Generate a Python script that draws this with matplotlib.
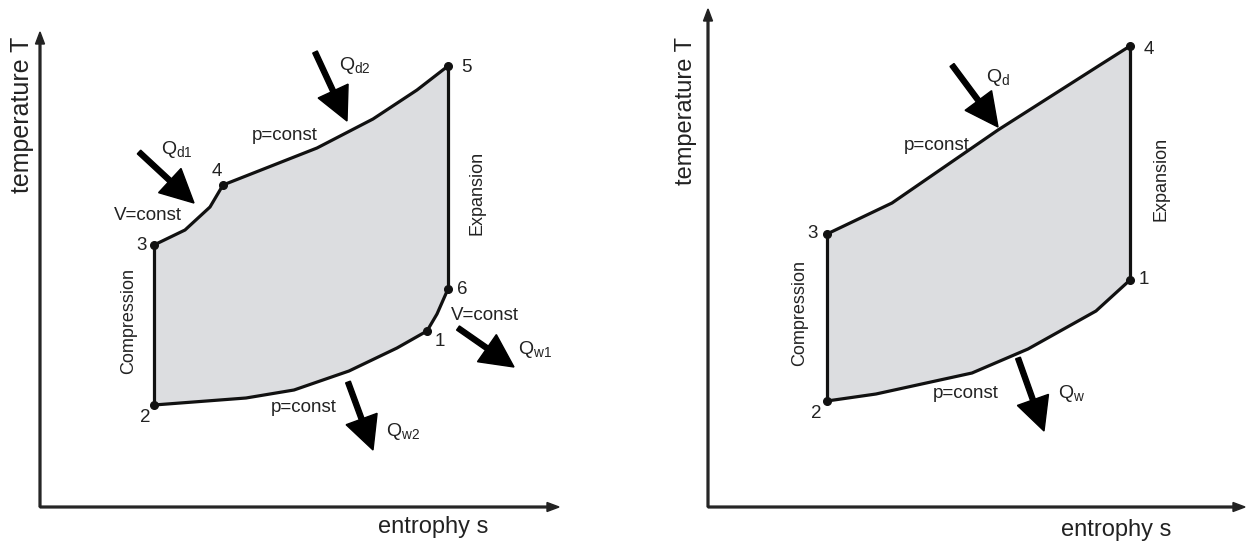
import numpy as np
import matplotlib.pyplot as plt

plt.rcParams['font.family'] = ['Liberation Sans', 'DejaVu Sans']
plt.rcParams['mathtext.fontset'] = 'custom'
plt.rcParams['mathtext.rm'] = 'Liberation Sans'

### left diagram: mixed cycle (values in diagram units) ###
left_pts_s = [387, 114, 114, 183, 408, 408]      # states 1..6
left_pts_T = [176, 102, 262, 322, 441, 218]
left_names = ['1', '2', '3', '4', '5', '6']
left_name_s = [400, 105, 102, 177, 426, 422]
left_name_T = [166, 90, 262, 335, 439, 217]

left_v_up_s = [114, 145, 170, 183]               # 3 -> 4, V=const
left_v_up_T = [262, 277, 300, 322]
left_p_up_s = [183, 277, 333, 377, 408]          # 4 -> 5, p=const
left_p_up_T = [322, 359, 388, 417, 441]
left_v_dn_s = [408, 397, 387]                    # 6 -> 1, V=const
left_v_dn_T = [218, 193, 176]
left_p_dn_s = [387, 357, 309, 254, 206, 114]     # 1 -> 2, p=const
left_p_dn_T = [176, 159, 136, 117, 109, 102]

left_arrows = [  # start s, start T, end s, end T, label, label s, label T
    (275, 455, 307, 386, r'Q$_{\mathrm{d2}}$', 299, 442),
    (99, 355, 154, 304, r'Q$_{\mathrm{d1}}$', 121, 357),
    (418, 179, 474, 140, r'Q$_{\mathrm{w1}}$', 478, 157),
    (308, 125, 333, 57, r'Q$_{\mathrm{w2}}$', 346, 76),
]
left_notes = [('p=const', 245, 371, 0), ('V=const', 108, 291, 0),
              ('V=const', 445, 191, 0), ('p=const', 264, 99, 0),
              ('Compression', 89, 186, 90), ('Expansion', 437, 314, 90)]

### right diagram: Joule / Brayton cycle ###
right_pts_s = [422, 119, 119, 422]               # states 1..4
right_pts_T = [227, 106, 273, 461]
right_names = ['1', '2', '3', '4']
right_name_s = [436, 108, 105, 441]
right_name_T = [227, 93, 274, 458]

right_p_up_s = [119, 184, 290, 392, 422]         # 3 -> 4
right_p_up_T = [273, 304, 377, 442, 461]
right_p_dn_s = [422, 388, 320, 264, 168, 119]    # 1 -> 2
right_p_dn_T = [227, 196, 158, 134, 113, 106]

right_arrows = [
    (244, 442, 290, 380, r'Q$_{\mathrm{d}}$', 278, 430),
    (310, 149, 336, 76, r'Q$_{\mathrm{w}}$', 350, 114),
]
right_notes = [('p=const', 229, 362, 0), ('p=const', 258, 113, 0),
               ('Compression', 92, 194, 90), ('Expansion', 453, 328, 90)]

W, H = 1247, 541
fig = plt.figure(figsize=(W / 100, H / 100), dpi=100)

line_c = '#111111'
text_c = '#222222'
fill_c = '#dcdde0'


def panel(box, cycle_s, cycle_T, segments, pts_s, pts_T, names, name_s, name_T,
          arrows, notes, ylab, xlab):
    x0, y0, w, h = box
    ax = fig.add_axes([x0 / W, (H - y0) / H, w / W, h / H])
    ax.set_xlim(0, w)
    ax.set_ylim(0, h)
    ax.axis('off')

    # coordinate axes with arrow heads
    ax.arrow(0, 0, w, 0, width=1.8, head_width=9, head_length=12,
             length_includes_head=True, color='#222222', clip_on=False)
    ax.arrow(0, 0, 0, h, width=1.8, head_width=9, head_length=12,
             length_includes_head=True, color='#222222', clip_on=False)

    ax.fill(cycle_s, cycle_T, color=fill_c, zorder=1)
    for s, T in segments:
        ax.plot(s, T, color=line_c, lw=2.3, solid_capstyle='round', zorder=2)
    ax.plot(pts_s, pts_T, 'o', color=line_c, ms=5.5, zorder=3)

    for n, s, T in zip(names, name_s, name_T):
        ax.text(s, T, n, ha='center', va='center', fontsize=13.5, color=text_c)

    for s0, T0, s1, T1, lab, ls, lT in arrows:
        ax.arrow(s0, T0, s1 - s0, T1 - T0, width=5, head_width=33, head_length=33,
                 length_includes_head=True, color='black', zorder=4)
        ax.text(ls, lT, lab, ha='left', va='center', fontsize=14, color=text_c)

    for txt, s, T, rot in notes:
        ax.text(s, T, txt, ha='center', va='center', rotation=rot,
                fontsize=13.5 if rot == 0 else 13, color=text_c)

    ax.text(ylab[0], ylab[1], 'temperature T', rotation=90, ha='center', va='center',
            fontsize=ylab[2], color=text_c, clip_on=False)
    ax.text(xlab[0], xlab[1], 'entrophy s', ha='center', va='center',
            fontsize=17, color=text_c, clip_on=False)
    return ax


left_cycle_s = ([left_pts_s[1]] + left_v_up_s + left_p_up_s[1:] + left_v_dn_s + left_p_dn_s[1:])
left_cycle_T = ([left_pts_T[1]] + left_v_up_T + left_p_up_T[1:] + left_v_dn_T + left_p_dn_T[1:])
left_segments = [
    ([left_pts_s[1], left_pts_s[2]], [left_pts_T[1], left_pts_T[2]]),
    (left_v_up_s, left_v_up_T),
    (left_p_up_s, left_p_up_T),
    ([left_pts_s[4], left_pts_s[5]], [left_pts_T[4], left_pts_T[5]]),
    (left_v_dn_s, left_v_dn_T),
    (left_p_dn_s, left_p_dn_T),
]
panel((40, 507, 519, 475), left_cycle_s, left_cycle_T, left_segments,
      left_pts_s, left_pts_T, left_names, left_name_s, left_name_T,
      left_arrows, left_notes, (-18, 392, 18), (393, -20))

right_cycle_s = right_p_up_s + right_p_dn_s
right_cycle_T = right_p_up_T + right_p_dn_T
right_segments = [
    ([right_pts_s[1], right_pts_s[2]], [right_pts_T[1], right_pts_T[2]]),
    (right_p_up_s, right_p_up_T),
    ([right_pts_s[3], right_pts_s[0]], [right_pts_T[3], right_pts_T[0]]),
    (right_p_dn_s, right_p_dn_T),
]
panel((708, 507, 537, 498), right_cycle_s, right_cycle_T, right_segments,
      right_pts_s, right_pts_T, right_names, right_name_s, right_name_T,
      right_arrows, right_notes, (-22, 396, 17), (408, -23))

fig.savefig('out.png', dpi=100)
